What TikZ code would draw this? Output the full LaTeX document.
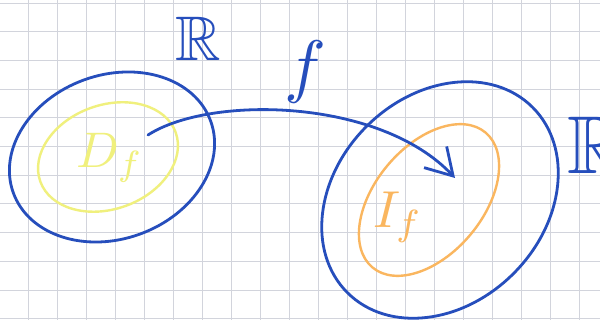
\documentclass[tikz,border=0pt]{standalone}
\usepackage{amssymb}
\usetikzlibrary{arrows.meta}
\definecolor{penblue}{RGB}{38,78,188}
\definecolor{hlyellow}{RGB}{240,240,125}
\definecolor{hlorange}{RGB}{250,182,95}
\definecolor{gridc}{RGB}{210,212,220}
\tikzset{
  gridline/.style={draw=gridc, line width=0.9pt},
  bluepen/.style={draw=penblue, line width=2.8pt, line cap=round, line join=round},
  yellowpen/.style={draw=hlyellow, line width=2.4pt},
  orangepen/.style={draw=hlorange, line width=2.4pt},
  lbl/.style={inner sep=0pt, outer sep=0pt, transform shape}
}
\begin{document}
\begin{tikzpicture}[x=1pt,y=1pt]
\useasboundingbox (0,0) rectangle (600,320);
\fill[white] (0,0) rectangle (600,320);
\foreach \i in {0,...,21} \draw[gridline] ({29*\i-0.5},0) -- ({29*\i-0.5},320);
\foreach \k in {0,...,11} \draw[gridline] (0,{317-28.7*\k}) -- (600,{317-28.7*\k});
% sets
\coordinate (lc) at (112,163);
\coordinate (yc) at (108,163);
\coordinate (rc) at (440,120);
\coordinate (oc) at (429,120);
\draw[yellowpen, rotate around={20:(yc)}] (yc) ellipse [x radius=72pt, y radius=52pt];
\draw[orangepen, rotate around={50:(oc)}] (oc) ellipse [x radius=88pt, y radius=54pt];
\draw[bluepen, rotate around={20:(lc)}] (lc) ellipse [x radius=105pt, y radius=82pt];
\draw[bluepen, rotate around={45:(rc)}] (rc) ellipse [x radius=131pt, y radius=104pt];
% labels
\node[lbl, text=penblue, scale=6.3] (R1) at (198,281) {$\mathbb{R}$};
\node[lbl, text=penblue, scale=8.2] (R2) at (597,175) {$\mathbb{R}$};
\node[lbl, text=penblue, scale=7] (f) at (305,248) {$f$};
\node[lbl, text=hlyellow, scale=5] (Df) at (110,162) {$D_f$};
\node[lbl, text=hlorange, scale=5.2] (If) at (398,103) {$I_f$};
% map arrow
\coordinate (as) at (148,185);
\coordinate (ae) at (455,142);
\draw[bluepen, -{Straight Barb[length=26pt,width=31pt]}] (as) .. controls (210,225) and (380,222) .. (ae);
\end{tikzpicture}
\end{document}
